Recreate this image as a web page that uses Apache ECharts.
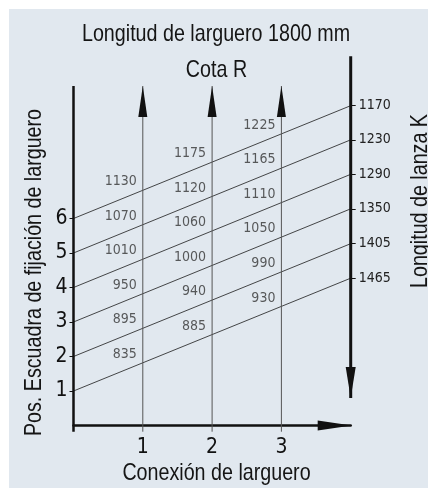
<!DOCTYPE html>
<html><head><meta charset="utf-8">
<script src="https://cdn.jsdelivr.net/npm/echarts@6/dist/echarts.min.js"></script>
<style>html,body{margin:0;padding:0;background:#fff}#c{width:428px;height:488px}</style>
</head><body><div id="c"></div>
<script>
// ---- data ----
const connections = [1, 2, 3];                 // Conexión de larguero
const positions = [1, 2, 3, 4, 5, 6];          // Pos. Escuadra de fijación
const lanzaK = [1465, 1405, 1350, 1290, 1230, 1170];   // K tick labels for positions 1..6
const kAxisPos = [4.27, 5.27, 6.28, 7.28, 8.28, 9.27]; // where each line meets the K axis
const cotaR1 = [835, 895, 950, 1010, 1070, 1130];
const cotaR2 = [885, 940, 1000, 1060, 1120, 1175];
const cotaR3 = [930, 990, 1050, 1110, 1165, 1225];
const xTicks = [1, 2, 3];
const yTicks = [1, 2, 3, 4, 5, 6];

// ---- layout ----
const FF = "'DejaVu Sans Condensed','Liberation Sans',sans-serif";
const FT = "'Liberation Sans',Arial,sans-serif";
const SX = 0.82;
const Y_MIN = -0.18, Y_MAX = 10.7, LEFT_TOP = 9.84, RIGHT_TIP = 0.8, X_MAX = 4;

const chart = echarts.init(document.getElementById('c'), null, {renderer: 'canvas'});
const series = [];
const common = {animation: false, silent: true, clip: false, emphasis: {disabled: true}};

// left axis line
series.push(Object.assign({type: 'line', data: [[0, Y_MIN], [0, LEFT_TOP]], symbol: 'none',
  lineStyle: {color: '#111', width: 2.5}, z: 6}, common));
// vertical connection lines with arrows
connections.forEach(c => series.push(Object.assign({type: 'line', symbol: 'triangle', showSymbol: true,
  data: [{value: [c, Y_MIN], symbol: 'none'},
         {value: [c, LEFT_TOP], symbol: 'triangle', symbolSize: [9, 31], symbolOffset: [0, 15.5]}],
  lineStyle: {color: '#555', width: 1}, itemStyle: {color: '#111', borderWidth: 0}, z: 4}, common)));
// right K axis with downward arrow
series.push(Object.assign({type: 'line', symbol: 'triangle', showSymbol: true,
  data: [{value: [X_MAX, Y_MAX], symbol: 'none'},
         {value: [X_MAX, RIGHT_TIP], symbol: 'triangle', symbolRotate: 180, symbolSize: [10, 31], symbolOffset: [0, -15.5]}],
  lineStyle: {color: '#111', width: 3}, itemStyle: {color: '#111', borderWidth: 0}, z: 6}, common));
// slanted position lines
positions.forEach((p, i) => series.push(Object.assign({type: 'line', symbol: 'none',
  data: [[0, p], [X_MAX, kAxisPos[i]]], lineStyle: {color: '#1a1a1a', width: 0.8}, z: 3}, common)));
// Cota R labels at line/connection intersections
const labelData = [];
[cotaR1, cotaR2, cotaR3].forEach((arr, ci) => {
  const c = connections[ci];
  arr.forEach((v, pi) => {
    const p = positions[pi];
    labelData.push([c, p + (kAxisPos[pi] - p) * c / X_MAX, v]);
  });
});
series.push(Object.assign({type: 'scatter', data: labelData, symbolSize: 0, z: 7,
  label: {show: true, position: 'left', distance: 6, offset: [0, -8.5], formatter: d => String(d.value[2]),
    fontSize: 14, color: '#333', fontFamily: FF}}, common));

function txt(text, x, y, rot) {
  return {type: 'text', x: x, y: y, rotation: rot || 0, scaleX: SX,
    style: {text: text, fontSize: 24, fontFamily: FT, fill: '#151515', align: 'center', verticalAlign: 'middle'}};
}

const option = {
  animation: false,
  backgroundColor: '#ffffff',
  grid: {left: 73.5, right: 77.3, top: 56.35, bottom: 56.29, containLabel: false},
  xAxis: {type: 'value', min: 0, max: X_MAX, interval: 1,
    axisLine: {show: true, lineStyle: {color: '#111', width: 2.5}, symbol: ['none', 'triangle'], symbolSize: [10, 34], symbolOffset: [0, -16]},
    axisTick: {show: false}, splitLine: {show: false},
    axisLabel: {fontSize: 21, color: '#111', margin: 5, fontFamily: FF,
      formatter: v => xTicks.includes(v) ? String(v) : ''}},
  yAxis: [
    {type: 'value', min: Y_MIN, max: Y_MAX, position: 'left',
      axisLine: {show: false}, splitLine: {show: false},
      axisTick: {show: true, customValues: yTicks, length: 4, lineStyle: {color: '#111', width: 1}},
      axisLabel: {customValues: yTicks, fontSize: 21, margin: 6, color: '#111', fontFamily: FF}},
    {type: 'value', min: Y_MIN, max: Y_MAX, position: 'right',
      axisLine: {show: false}, splitLine: {show: false},
      axisTick: {show: true, inside: false, customValues: kAxisPos, length: 5, lineStyle: {color: '#111', width: 1}},
      axisLabel: {customValues: kAxisPos, fontSize: 14, margin: 8, color: '#222', fontFamily: FF,
        formatter: v => { const i = kAxisPos.findIndex(k => Math.abs(k - v) < 1e-6); return i >= 0 ? String(lanzaK[i]) : ''; }}}
  ],
  graphic: [
    {type: 'rect', shape: {x: 9, y: 9, width: 419, height: 479}, style: {fill: '#e1e8ef'}, z: -10, silent: true},
    txt('Longitud de larguero 1800 mm', 216, 34),
    txt('Cota R', 216.5, 70),
    txt('Conexión de larguero', 216.5, 473),
    txt('Pos. Escuadra de fijación de larguero', 34, 272.5, Math.PI / 2),
    txt('Longitud de lanza K', 420, 201, Math.PI / 2)
  ],
  series: series
};
chart.setOption(option);
</script></body></html>
